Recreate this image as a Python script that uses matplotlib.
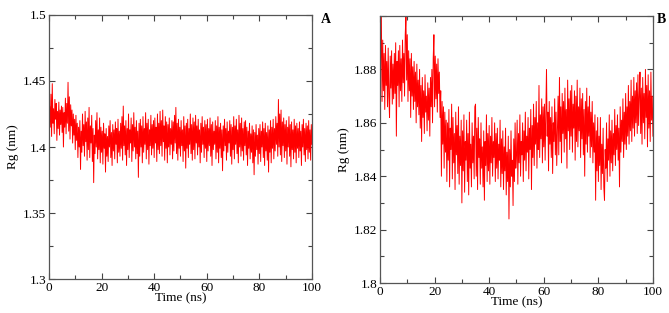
import numpy as np
import matplotlib.pyplot as plt
from matplotlib.ticker import MultipleLocator

plt.rcParams['font.family'] = ['Liberation Serif', 'DejaVu Serif']

# Rg trace of panel A, one value every 0.25 ns (0 .. 100 ns)
rg_a = [
    1.412, 1.431, 1.415, 1.440, 1.408, 1.448, 1.418, 1.429, 1.410, 1.436, 1.421, 1.433, 1.405, 1.427, 1.414, 1.434, 1.409, 1.428, 1.417, 1.431,
    1.411, 1.430, 1.400, 1.426, 1.415, 1.437, 1.410, 1.433, 1.418, 1.449, 1.412, 1.438, 1.406, 1.432, 1.416, 1.428, 1.403, 1.425, 1.409, 1.421,
    1.398, 1.424, 1.405, 1.418, 1.392, 1.415, 1.400, 1.420, 1.383, 1.412, 1.396, 1.425, 1.401, 1.417, 1.393, 1.427, 1.404, 1.419, 1.390, 1.422,
    1.398, 1.430, 1.392, 1.416, 1.403, 1.424, 1.389, 1.414, 1.373, 1.409, 1.395, 1.420, 1.400, 1.426, 1.391, 1.413, 1.398, 1.422, 1.388, 1.415,
    1.396, 1.412, 1.387, 1.418, 1.399, 1.410, 1.381, 1.414, 1.393, 1.408, 1.389, 1.416, 1.400, 1.420, 1.392, 1.411, 1.386, 1.417, 1.397, 1.413,
    1.391, 1.419, 1.402, 1.414, 1.388, 1.421, 1.396, 1.412, 1.393, 1.418, 1.399, 1.423, 1.390, 1.431, 1.401, 1.416, 1.394, 1.420, 1.386, 1.414,
    1.398, 1.425, 1.392, 1.413, 1.403, 1.422, 1.389, 1.417, 1.397, 1.426, 1.400, 1.415, 1.391, 1.420, 1.395, 1.412, 1.377, 1.418, 1.393, 1.421,
    1.400, 1.416, 1.388, 1.423, 1.396, 1.414, 1.402, 1.426, 1.391, 1.418, 1.398, 1.421, 1.387, 1.413, 1.401, 1.424, 1.394, 1.417, 1.399, 1.420,
    1.392, 1.422, 1.403, 1.415, 1.389, 1.425, 1.398, 1.418, 1.395, 1.427, 1.401, 1.420, 1.393, 1.428, 1.404, 1.416, 1.390, 1.423, 1.399, 1.419,
    1.388, 1.417, 1.400, 1.422, 1.394, 1.414, 1.402, 1.420, 1.391, 1.419, 1.397, 1.424, 1.403, 1.430, 1.395, 1.418, 1.390, 1.421, 1.399, 1.415,
    1.393, 1.420, 1.401, 1.413, 1.389, 1.423, 1.397, 1.416, 1.384, 1.418, 1.399, 1.421, 1.392, 1.414, 1.402, 1.425, 1.395, 1.417, 1.390, 1.422,
    1.398, 1.419, 1.391, 1.424, 1.403, 1.416, 1.394, 1.421, 1.400, 1.413, 1.388, 1.418, 1.396, 1.423, 1.402, 1.415, 1.392, 1.420, 1.399, 1.417,
    1.389, 1.421, 1.397, 1.414, 1.401, 1.422, 1.393, 1.417, 1.386, 1.419, 1.398, 1.412, 1.402, 1.420, 1.391, 1.416, 1.396, 1.423, 1.388, 1.415,
    1.399, 1.418, 1.392, 1.413, 1.382, 1.416, 1.397, 1.421, 1.401, 1.414, 1.390, 1.419, 1.396, 1.412, 1.403, 1.420, 1.393, 1.417, 1.387, 1.415,
    1.398, 1.423, 1.391, 1.416, 1.402, 1.421, 1.395, 1.413, 1.388, 1.424, 1.400, 1.418, 1.393, 1.422, 1.397, 1.414, 1.390, 1.419, 1.401, 1.420,
    1.394, 1.415, 1.386, 1.412, 1.399, 1.418, 1.391, 1.410, 1.396, 1.416, 1.388, 1.413, 1.379, 1.411, 1.393, 1.417, 1.398, 1.409, 1.387, 1.414,
    1.395, 1.417, 1.389, 1.412, 1.400, 1.419, 1.392, 1.414, 1.386, 1.418, 1.397, 1.411, 1.390, 1.416, 1.381, 1.413, 1.396, 1.420, 1.388, 1.415,
    1.399, 1.421, 1.391, 1.414, 1.397, 1.423, 1.402, 1.418, 1.393, 1.436, 1.400, 1.425, 1.394, 1.428, 1.389, 1.419, 1.401, 1.422, 1.392, 1.417,
    1.397, 1.420, 1.387, 1.415, 1.400, 1.423, 1.393, 1.417, 1.385, 1.419, 1.398, 1.413, 1.391, 1.421, 1.396, 1.416, 1.388, 1.418, 1.399, 1.414,
    1.392, 1.419, 1.397, 1.412, 1.386, 1.417, 1.400, 1.421, 1.394, 1.414, 1.389, 1.418, 1.398, 1.416, 1.391, 1.420, 1.396, 1.413, 1.390, 1.417,
    1.402,
]

# Rg trace of panel B, same time grid
rg_b = [
    1.851, 1.884, 1.900, 1.868, 1.891, 1.872, 1.886, 1.865, 1.889, 1.874, 1.883, 1.866, 1.888, 1.870, 1.862, 1.885, 1.873, 1.887, 1.867, 1.882,
    1.869, 1.886, 1.871, 1.890, 1.855, 1.883, 1.874, 1.887, 1.866, 1.889, 1.872, 1.884, 1.868, 1.891, 1.875, 1.886, 1.870, 1.893, 1.900, 1.876,
    1.893, 1.868, 1.887, 1.872, 1.884, 1.862, 1.886, 1.870, 1.881, 1.865, 1.883, 1.868, 1.879, 1.860, 1.882, 1.866, 1.876, 1.863, 1.880, 1.858,
    1.874, 1.853, 1.877, 1.862, 1.872, 1.856, 1.878, 1.864, 1.870, 1.857, 1.875, 1.861, 1.873, 1.855, 1.877, 1.866, 1.880, 1.860, 1.884, 1.893,
    1.866, 1.885, 1.869, 1.882, 1.864, 1.884, 1.871, 1.879, 1.862, 1.872, 1.840, 1.868, 1.852, 1.866, 1.843, 1.864, 1.849, 1.861, 1.838, 1.860,
    1.846, 1.865, 1.836, 1.858, 1.850, 1.867, 1.839, 1.862, 1.845, 1.856, 1.835, 1.864, 1.848, 1.859, 1.841, 1.866, 1.837, 1.855, 1.844, 1.861,
    1.830, 1.857, 1.842, 1.863, 1.834, 1.853, 1.846, 1.861, 1.838, 1.856, 1.833, 1.864, 1.843, 1.852, 1.836, 1.860, 1.845, 1.855, 1.839, 1.866,
    1.867, 1.840, 1.858, 1.835, 1.862, 1.847, 1.854, 1.837, 1.860, 1.843, 1.851, 1.836, 1.857, 1.831, 1.853, 1.844, 1.863, 1.838, 1.856, 1.842,
    1.859, 1.837, 1.855, 1.845, 1.862, 1.840, 1.853, 1.847, 1.860, 1.838, 1.856, 1.843, 1.858, 1.839, 1.852, 1.846, 1.861, 1.836, 1.854, 1.841,
    1.857, 1.835, 1.851, 1.842, 1.858, 1.833, 1.849, 1.838, 1.855, 1.824, 1.850, 1.836, 1.857, 1.840, 1.846, 1.829, 1.854, 1.838, 1.860, 1.843,
    1.848, 1.861, 1.837, 1.856, 1.845, 1.863, 1.840, 1.853, 1.848, 1.860, 1.838, 1.857, 1.846, 1.864, 1.842, 1.855, 1.849, 1.862, 1.839, 1.858,
    1.850, 1.865, 1.835, 1.859, 1.847, 1.867, 1.844, 1.862, 1.852, 1.868, 1.843, 1.860, 1.850, 1.874, 1.847, 1.863, 1.854, 1.869, 1.845, 1.866,
    1.851, 1.867, 1.846, 1.863, 1.880, 1.855, 1.864, 1.842, 1.868, 1.852, 1.862, 1.847, 1.866, 1.841, 1.860, 1.853, 1.869, 1.848, 1.864, 1.844,
    1.858, 1.870, 1.848, 1.877, 1.853, 1.866, 1.845, 1.871, 1.856, 1.868, 1.849, 1.873, 1.854, 1.865, 1.843, 1.876, 1.857, 1.869, 1.850, 1.872,
    1.855, 1.874, 1.849, 1.867, 1.858, 1.872, 1.846, 1.870, 1.853, 1.876, 1.851, 1.866, 1.857, 1.873, 1.847, 1.869, 1.854, 1.871, 1.848, 1.865,
    1.840, 1.868, 1.852, 1.873, 1.849, 1.866, 1.855, 1.870, 1.847, 1.864, 1.851, 1.868, 1.845, 1.860, 1.849, 1.863, 1.831, 1.857, 1.842, 1.862,
    1.838, 1.855, 1.844, 1.862, 1.835, 1.852, 1.841, 1.858, 1.836, 1.831, 1.850, 1.843, 1.860, 1.838, 1.854, 1.846, 1.863, 1.840, 1.857, 1.845,
    1.861, 1.842, 1.856, 1.848, 1.865, 1.844, 1.859, 1.850, 1.863, 1.846, 1.858, 1.836, 1.866, 1.849, 1.861, 1.853, 1.869, 1.847, 1.864, 1.852,
    1.871, 1.850, 1.866, 1.855, 1.874, 1.852, 1.868, 1.857, 1.876, 1.853, 1.870, 1.858, 1.877, 1.855, 1.872, 1.860, 1.875, 1.856, 1.878, 1.859,
    1.870, 1.879, 1.856, 1.873, 1.852, 1.877, 1.860, 1.871, 1.854, 1.880, 1.862, 1.874, 1.851, 1.878, 1.858, 1.872, 1.853, 1.879, 1.861, 1.870,
    1.855,
]

time_a = np.linspace(0, 100, len(rg_a))
time_b = np.linspace(0, 100, len(rg_b))


def style_axes(ax, ylim, ymajor, yminor):
    ax.set_xlim(0, 100)
    ax.set_ylim(*ylim)
    ax.xaxis.set_major_locator(MultipleLocator(20))
    ax.xaxis.set_minor_locator(MultipleLocator(10))
    ax.yaxis.set_major_locator(MultipleLocator(ymajor))
    ax.yaxis.set_minor_locator(MultipleLocator(yminor))
    ax.tick_params(which='both', direction='in', top=True, right=True,
                   labelsize=9.5, color='#444444', width=0.8, pad=2)
    ax.tick_params(which='major', length=4)
    ax.tick_params(which='minor', length=3)
    for s in ax.spines.values():
        s.set_color('#555555')
        s.set_linewidth(0.9)
    ax.set_xlabel('Time (ns)', fontsize=9.5, labelpad=-1)
    ax.set_ylabel('Rg (nm)', fontsize=9.5, labelpad=3)


def short_label(v, top):
    # 1.40 -> 1.4, and no label on the top tick when top is False
    if not top and v > 1.895:
        return ''
    return ('%.2f' % v).rstrip('0')


fig = plt.figure(figsize=(6.69, 3.13), dpi=100)

ax1 = fig.add_axes([0.0732, 0.1086, 0.3931, 0.8435])
ax1.plot(time_a, rg_a, color='red', linewidth=0.7)
style_axes(ax1, (1.3, 1.5), 0.05, 0.025)
ax1.yaxis.set_major_formatter(plt.FuncFormatter(lambda v, p: short_label(v, True)))
fig.text(0.479, 0.925, 'A', fontsize=10, fontweight='bold')

ax2 = fig.add_axes([0.568, 0.0958, 0.408, 0.853])
ax2.plot(time_b, rg_b, color='red', linewidth=0.7)
style_axes(ax2, (1.8, 1.9), 0.02, 0.01)
ax2.yaxis.set_major_formatter(plt.FuncFormatter(lambda v, p: short_label(v, False)))
fig.text(0.982, 0.925, 'B', fontsize=10, fontweight='bold')

fig.savefig('out.png', dpi=100)
